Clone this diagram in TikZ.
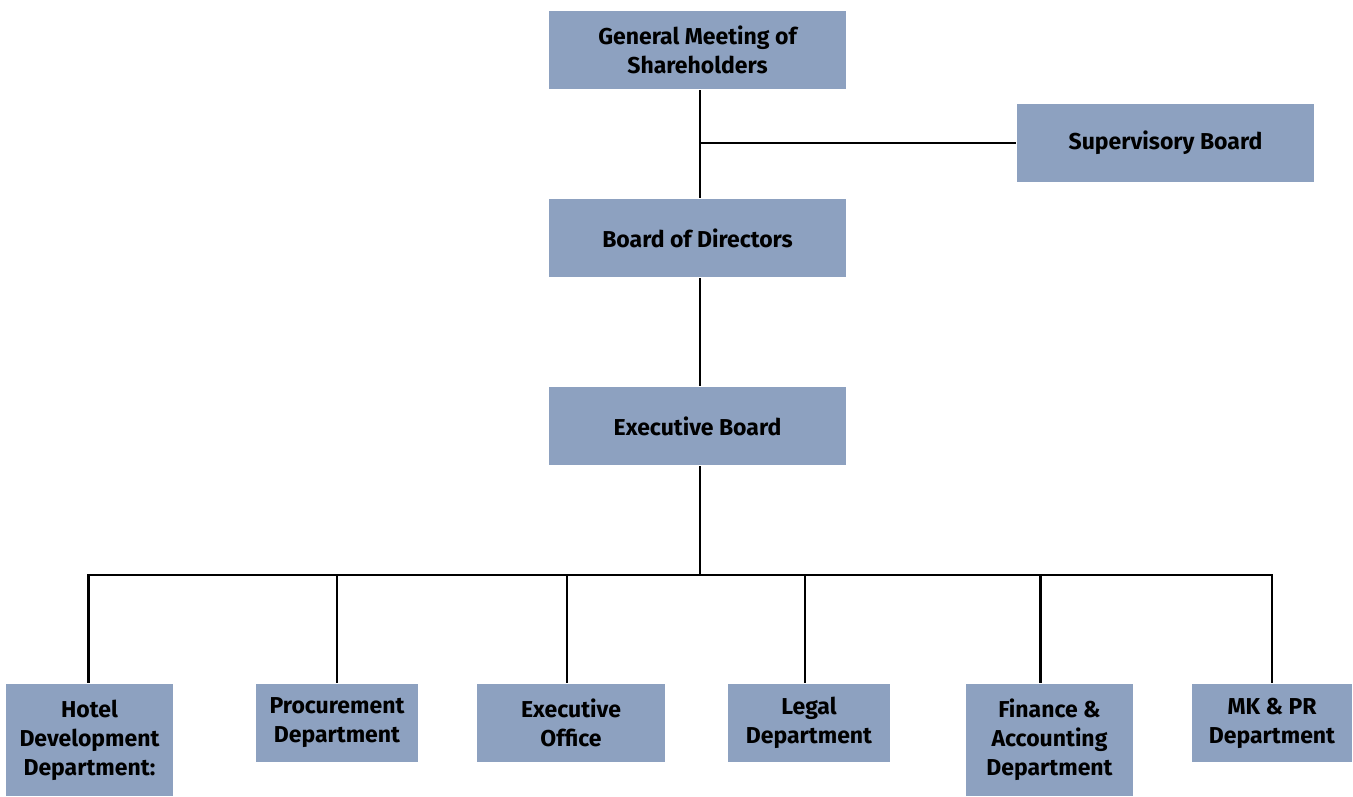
\documentclass[tikz,border=0pt]{standalone}
\usepackage{fontspec}
\setmainfont{Fira Sans}
\usetikzlibrary{calc}
\definecolor{blue1}{RGB}{141, 161, 192}

\begin{document}
\begin{tikzpicture}[x=1pt, y=-1pt, line width=2.5pt,
  box/.style={fill=blue1, align=center, inner sep=0pt,
    font=\fontsize{23}{29}\selectfont\bfseries},
  wide/.style={box, minimum width=297pt, minimum height=78pt}]
  \useasboundingbox (0,0) rectangle (1353,796);
  \node[wide] (gm) at (697.5,50) {General Meeting of\\Shareholders};
  \node[wide] (sb) at (1165.5,143) {Supervisory Board};
  \node[wide] (bod) at (697.5,238) {Board of Directors};
  \node[wide] (eb) at (697.5,426) {Executive Board};
  \node[box, minimum width=167pt, minimum height=112pt] (hotel) at (89.5,740) {Hotel\\Development\\Department:};
  \node[box, minimum width=162pt, minimum height=78pt] (proc) at (337,723) {Procurement\\Department};
  \node[box, minimum width=188pt, minimum height=78pt] (exec) at (571,723) {Executive\\Office};
  \node[box, minimum width=162pt, minimum height=78pt] (legal) at (809,723) {Legal\\Department};
  \node[box, minimum width=167pt, minimum height=112pt] (fin) at (1049.5,740) {Finance \&\\Accounting\\Department};
  \node[box, minimum width=160pt, minimum height=78pt] (mkpr) at (1272,723) {MK \& PR\\Department};
  \coordinate (bus) at (700,575);
  \foreach \from/\to in {gm/bod, bod/eb}
    \draw ([xshift=2.5pt]\from.south) -- ([xshift=2.5pt]\to.north);
  \draw (sb.west) -- ([xshift=2.5pt]sb.west -| gm.south);
  \draw ([xshift=2.5pt]eb.south) -- (bus);
  \foreach \to/\dx in {hotel/-1, proc/0, exec/-4, legal/-4, fin/-9, mkpr/0}
    \draw (bus) -| ([xshift=\dx pt]\to.north);
\end{tikzpicture}
\end{document}
